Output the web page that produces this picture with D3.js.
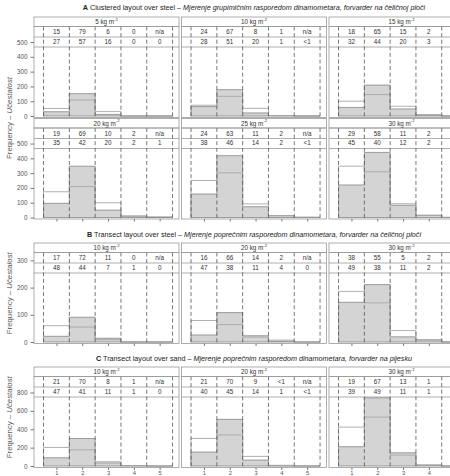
<!DOCTYPE html>
<html>
<head>
<meta charset="utf-8">
<script src="https://cdn.jsdelivr.net/npm/d3@7"></script>
<style>
  body { margin: 0; background: #fff; }
  svg { display: block; font-family: "Liberation Sans Narrow", "Liberation Sans", Arial, sans-serif; }
</style>
</head>
<body>
<div id="chart"></div>
<script>
// Histograms of load share per dynamometer class, three layouts

const bins = [1, 2, 3, 4, 5];
const binLabels = ["1", "2", "3", "4", "5"];

// A - clustered layout over steel
const loadsA = ["5", "10", "15", "20", "25", "30"];
const greyA = [
  [29, 151, 11, 0, 0],
  [64, 178, 21, 3, 0],
  [58, 209, 48, 6, 0],
  [96, 347, 50, 10, 0],
  [159, 418, 73, 13, 0],
  [220, 440, 83, 15, 0]
];
const lineA = [
  [51, 108, 30, 0, 0],
  [73, 133, 52, 3, 1],
  [100, 145, 66, 10, 2],
  [174, 209, 100, 10, 5],
  [250, 302, 92, 13, 3],
  [347, 309, 93, 15, 2]
];
const pctGreyA = [
  ["15", "79", "6", "0", "n/a"],
  ["24", "67", "8", "1", "n/a"],
  ["18", "65", "15", "2", "n/a"],
  ["19", "69", "10", "2", "n/a"],
  ["24", "63", "11", "2", "n/a"],
  ["29", "58", "11", "2", "n/a"]
];
const pctLineA = [
  ["27", "57", "16", "0", "0"],
  ["28", "51", "20", "1", "<1"],
  ["32", "44", "20", "3", "<1"],
  ["35", "42", "20", "2", "1"],
  ["38", "46", "14", "2", "<1"],
  ["45", "40", "12", "2", "<1"]
];

// B - transect layout over steel
const loadsB = ["10", "20", "30"];
const greyB = [
  [21, 91, 14, 0, 0],
  [26, 108, 23, 3, 0],
  [146, 211, 19, 8, 0]
];
const lineB = [
  [60, 55, 9, 1, 0],
  [79, 64, 18, 7, 0],
  [186, 144, 42, 8, 0]
];
const pctGreyB = [
  ["17", "72", "11", "0", "n/a"],
  ["16", "66", "14", "2", "n/a"],
  ["38", "55", "5", "2", "n/a"]
];
const pctLineB = [
  ["48", "44", "7", "1", "0"],
  ["47", "38", "11", "4", "0"],
  ["49", "38", "11", "2", "0"]
];

// C - transect layout over sand
const loadsC = ["10", "20", "30"];
const greyC = [
  [90, 299, 34, 4, 0],
  [152, 508, 65, 3, 0],
  [210, 742, 144, 11, 0]
];
const lineC = [
  [202, 176, 47, 4, 0],
  [300, 338, 105, 8, 3],
  [423, 532, 119, 11, 0]
];
const pctGreyC = [
  ["21", "70", "8", "1", "n/a"],
  ["21", "70", "9", "<1", "n/a"],
  ["19", "67", "13", "1", "n/a"]
];
const pctLineC = [
  ["47", "41", "11", "1", "0"],
  ["40", "45", "14", "1", "<1"],
  ["39", "49", "11", "1", "0"]
];

const titles = [
  ["A", "Clustered layout over steel", "Mjerenje grupimičnim rasporedom dinamometara, forvarder na čeličnoj ploči"],
  ["B", "Transect layout over steel", "Mjerenje poprečnim rasporedom dinamometara, forvarder na čeličnoj ploči"],
  ["C", "Transect layout over sand", "Mjerenje poprečnim rasporedom dinamometara, forvarder na pijesku"]
];

const width = 450, height = 476;
const panelLeft = 34, panelW = 145, pitch = 147.5;
const stripH = 9.5, plotH = 91;

const svg = d3.select("#chart").append("svg")
  .attr("width", width)
  .attr("height", height);

const x0 = d3.scaleLinear().domain([0.13, 5.75]).range([0, panelW]);

function drawSection(cfg) {
  const t = titles[cfg.idx];
  const title = svg.append("text")
    .attr("x", panelLeft + (2 * pitch + panelW) / 2)
    .attr("y", cfg.titleY)
    .attr("text-anchor", "middle")
    .attr("dominant-baseline", "middle")
    .attr("font-size", 7.2)
    .attr("fill", "#222");
  title.append("tspan").attr("font-weight", "bold").text(t[0]);
  title.append("tspan").text("  " + t[1] + "  –  ");
  title.append("tspan").attr("font-style", "italic").text(t[2]);

  const nRows = cfg.rows.length;
  const top = cfg.rows[0];
  const bottom = cfg.rows[nRows - 1] + stripH + plotH;

  // y axis title
  const yt = svg.append("text")
    .attr("transform", `translate(10,${(top + bottom) / 2}) rotate(-90)`)
    .attr("text-anchor", "middle")
    .attr("dominant-baseline", "middle")
    .attr("font-size", 7.8)
    .attr("fill", "#555");
  yt.append("tspan").text("Frequency  –  ");
  yt.append("tspan").attr("font-style", "italic").text("Učestalost");

  cfg.loads.forEach((load, i) => {
    const row = Math.floor(i / 3), col = i % 3;
    const left = panelLeft + col * pitch;
    const sTop = cfg.rows[row];
    const pTop = sTop + stripH;
    const pBot = pTop + plotH;
    const y = d3.scaleLinear().domain(cfg.yDomain).range([pBot, pTop]);
    const x = v => left + x0(v);
    // the figure is cropped at the right edge, so the last column falls outside
    const visible = k => x(bins[k]) < width - 6;

    const g = svg.append("g");

    // strip
    g.append("rect")
      .attr("x", left).attr("y", sTop)
      .attr("width", panelW).attr("height", stripH)
      .attr("fill", "#fff").attr("stroke", "#999").attr("stroke-width", 0.8);
    const st = g.append("text")
      .attr("x", left + panelW / 2).attr("y", sTop + stripH / 2 + 0.5)
      .attr("text-anchor", "middle").attr("dominant-baseline", "middle")
      .attr("font-size", 6.3).attr("fill", "#333");
    st.append("tspan").text(load + " kg m");
    st.append("tspan").attr("font-size", 4.2).attr("dy", -2.5).text("-2");

    // grey histogram
    const areaPts = bins.map((b, k) => [b - 0.5, cfg.grey[i][k]]);
    areaPts.push([5.5, cfg.grey[i][4]]);
    const area = d3.area()
      .x(d => x(d[0])).y0(y(0)).y1(d => y(d[1]))
      .curve(d3.curveStepAfter);
    g.append("path")
      .attr("d", area(areaPts))
      .attr("fill", "#d4d4d4")
      .attr("stroke", "#7a7a7a")
      .attr("stroke-width", 0.7);

    // outline histogram
    const linePts = [[0.5, 0]].concat(bins.map((b, k) => [b - 0.5, cfg.line[i][k]]));
    linePts.push([5.5, 0]);
    const line = d3.line()
      .x(d => x(d[0])).y(d => y(d[1]))
      .curve(d3.curveStepAfter);
    g.append("path")
      .attr("d", line(linePts))
      .attr("fill", "none")
      .attr("stroke", "#a8a8a8")
      .attr("stroke-width", 0.9);

    // header rows with percentages
    g.append("line")
      .attr("x1", left).attr("x2", left + panelW)
      .attr("y1", pTop + 10.5).attr("y2", pTop + 10.5)
      .attr("stroke", "#b0b0b0").attr("stroke-width", 1.1);
    g.append("line")
      .attr("x1", left).attr("x2", left + panelW)
      .attr("y1", pTop + 20.5).attr("y2", pTop + 20.5)
      .attr("stroke", "#999").attr("stroke-width", 0.8);
    [cfg.pctGrey[i], cfg.pctLine[i]].forEach((vals, r) => {
      const shown = vals.map((d, k) => ({ d, k })).filter(o => visible(o.k));
      g.selectAll(null).data(shown).enter().append("text")
        .attr("x", o => x(bins[o.k]))
        .attr("y", pTop + 6 + r * 9.8)
        .attr("text-anchor", "middle").attr("dominant-baseline", "middle")
        .attr("font-size", 6.3).attr("fill", "#333")
        .text(o => o.d);
    });

    // dashed bin boundaries
    g.selectAll(null).data([0.5, 1.5, 2.5, 3.5, 4.5, 5.5]).enter().append("line")
      .attr("x1", d => x(d)).attr("x2", d => x(d))
      .attr("y1", pTop).attr("y2", pBot)
      .attr("stroke", "#555").attr("stroke-width", 0.8)
      .attr("stroke-dasharray", "4,2.6");

    // panel frame
    g.append("rect")
      .attr("x", left).attr("y", pTop)
      .attr("width", panelW).attr("height", plotH)
      .attr("fill", "none").attr("stroke", "#999").attr("stroke-width", 0.8);

    // y axis on first column
    if (col === 0) {
      const ya = g.append("g").attr("transform", `translate(${left},0)`)
        .call(d3.axisLeft(y).tickValues(cfg.yTicks).tickSize(3.5).tickPadding(3));
      ya.select(".domain").remove();
      ya.selectAll("line").attr("stroke", "#777");
      ya.selectAll("text").attr("font-size", 6.3).attr("fill", "#555")
        .attr("font-family", null);
    }

    // x ticks on last row
    if (row === nRows - 1) {
      const xa = g.append("g").attr("transform", `translate(${left},${pBot})`)
        .call(d3.axisBottom(x0).tickValues(bins.filter((b, k) => visible(k)))
          .tickSize(2.5).tickPadding(0.8)
          .tickFormat(d => cfg.xLabels ? binLabels[bins.indexOf(d)] : ""));
      xa.select(".domain").remove();
      xa.selectAll("line").attr("stroke", "#777");
      xa.selectAll("text").attr("font-size", 5.8).attr("fill", "#555")
        .attr("font-family", null);
    }
  });
}

drawSection({
  idx: 0, titleY: 7.5, rows: [17, 118.5],
  loads: loadsA, grey: greyA, line: lineA, pctGrey: pctGreyA, pctLine: pctLineA,
  yDomain: [-10, 605], yTicks: [0, 100, 200, 300, 400, 500], xLabels: false
});
drawSection({
  idx: 1, titleY: 235, rows: [243],
  loads: loadsB, grey: greyB, line: lineB, pctGrey: pctGreyB, pctLine: pctLineB,
  yDomain: [-5.5, 329], yTicks: [0, 100, 200, 300], xLabels: false
});
drawSection({
  idx: 2, titleY: 359, rows: [367],
  loads: loadsC, grey: greyC, line: lineC, pctGrey: pctGreyC, pctLine: pctLineC,
  yDomain: [-16, 974], yTicks: [0, 200, 400, 600, 800], xLabels: true
});
</script>
</body>
</html>
